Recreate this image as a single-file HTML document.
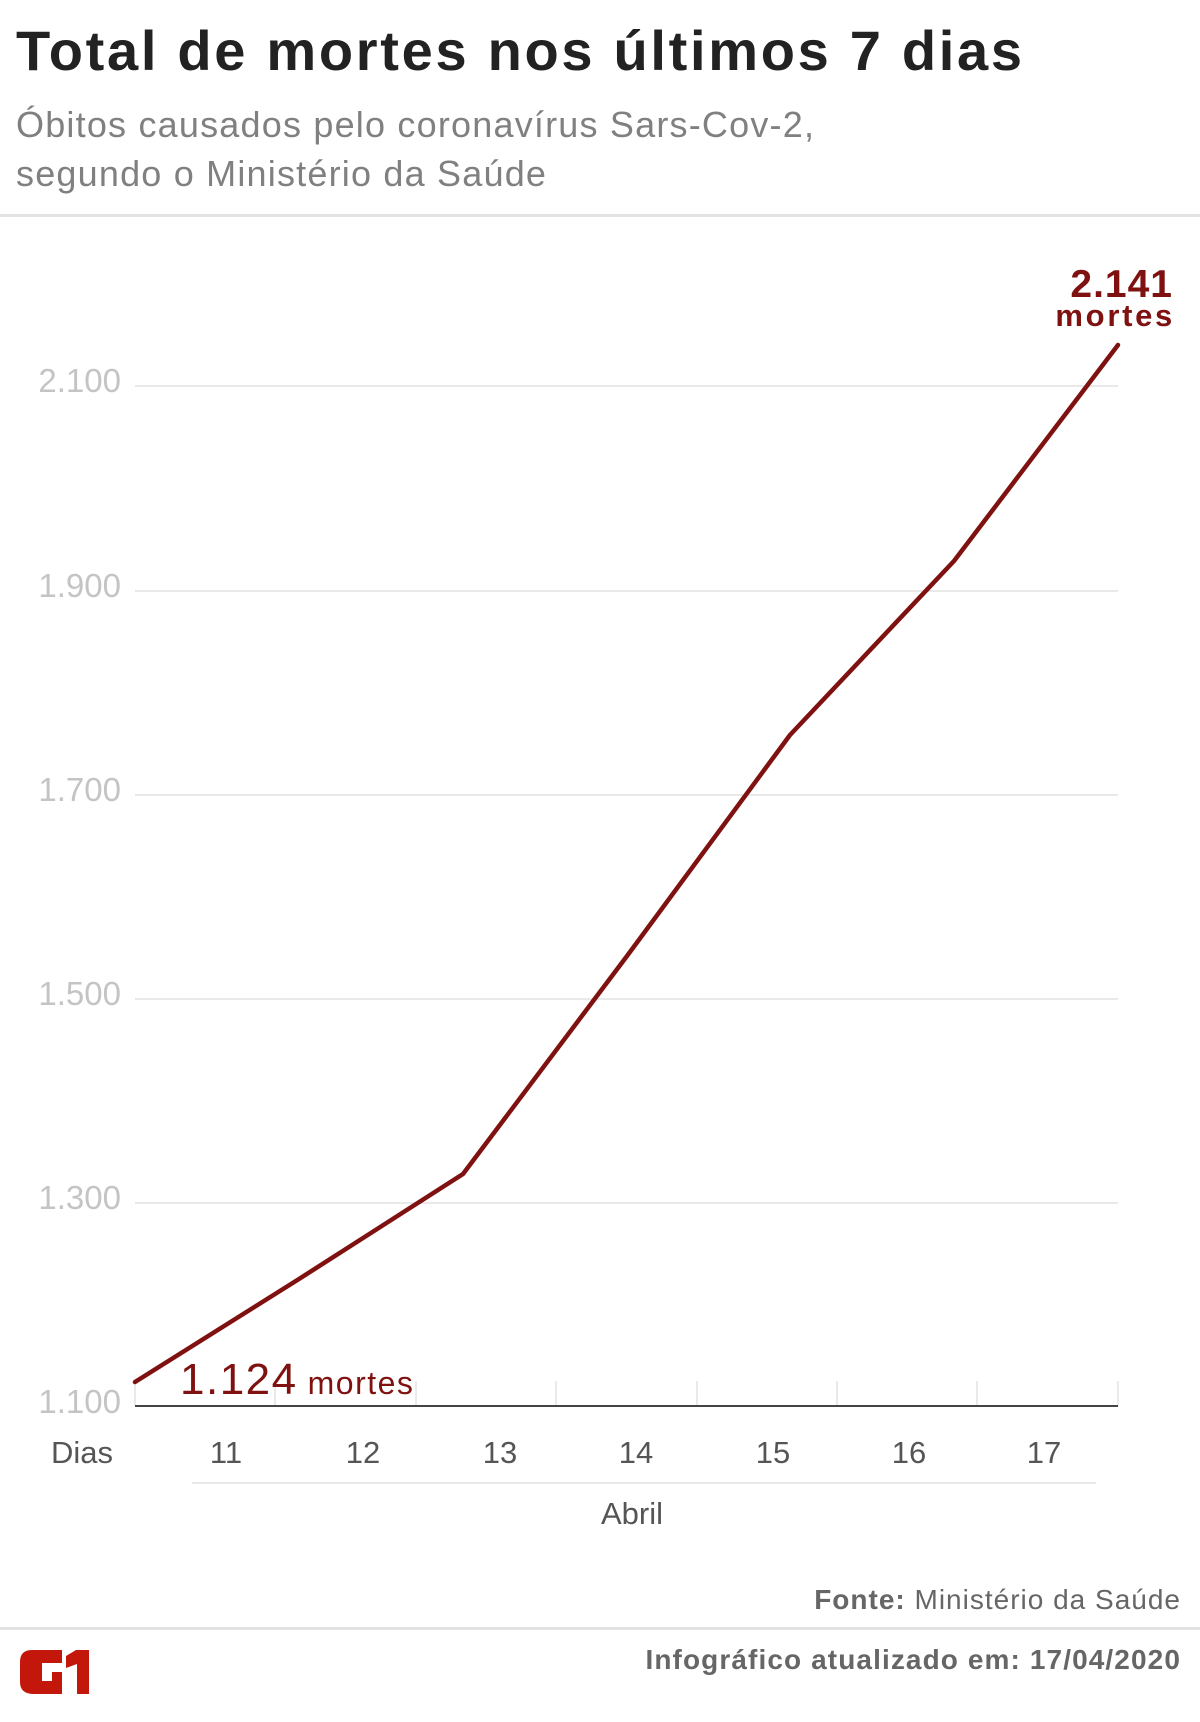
<!DOCTYPE html>
<html><head><meta charset="utf-8"><style>
html,body{margin:0;padding:0;background:#fff;}
body{width:1200px;height:1722px;position:relative;overflow:hidden;font-family:"Liberation Sans","DejaVu Sans",sans-serif;}
.t{position:absolute;white-space:nowrap;}
</style></head><body>
<div class="t" style="left:16px;top:18px;font-size:56px;font-weight:bold;color:#222;letter-spacing:2.7px;">Total de mortes nos últimos 7 dias</div>
<div class="t" style="left:16px;top:100px;font-size:36px;color:#808080;line-height:49px;letter-spacing:1.2px;">Óbitos causados pelo coronavírus Sars-Cov-2,<br>segundo o Ministério da Saúde</div>
<div style="position:absolute;left:0;top:214px;width:1200px;height:3px;background:#e3e3e3;"></div>
<svg width="1200" height="1722" style="position:absolute;left:0;top:0" xmlns="http://www.w3.org/2000/svg" font-family="Liberation Sans, DejaVu Sans, sans-serif">
<g stroke="#e2e2e2" stroke-width="1.5">
<line x1="135" y1="386" x2="1118" y2="386"/>
<line x1="135" y1="591" x2="1118" y2="591"/>
<line x1="135" y1="795" x2="1118" y2="795"/>
<line x1="135" y1="999" x2="1118" y2="999"/>
<line x1="135" y1="1203" x2="1118" y2="1203"/>
<line x1="135" y1="1381" x2="135" y2="1406"/>
<line x1="275" y1="1381" x2="275" y2="1406"/>
<line x1="416" y1="1381" x2="416" y2="1406"/>
<line x1="556" y1="1381" x2="556" y2="1406"/>
<line x1="697" y1="1381" x2="697" y2="1406"/>
<line x1="837" y1="1381" x2="837" y2="1406"/>
<line x1="977" y1="1381" x2="977" y2="1406"/>
<line x1="1118" y1="1381" x2="1118" y2="1406"/>
<line x1="192" y1="1483" x2="1096" y2="1483"/>
</g>
<line x1="135" y1="1406" x2="1118" y2="1406" stroke="#444" stroke-width="2"/>
<g fill="#c4c4c4" font-size="33" text-anchor="end">
<text x="121" y="392">2.100</text>
<text x="121" y="597">1.900</text>
<text x="121" y="801">1.700</text>
<text x="121" y="1005">1.500</text>
<text x="121" y="1209">1.300</text>
<text x="121" y="1413">1.100</text>
</g>
<polyline fill="none" stroke="#7f1111" stroke-width="4.5" stroke-linejoin="round" stroke-linecap="round"
points="135,1382 299,1279 463,1174 627,956 790,735 954,561 1118,345"/>
<g fill="#555" font-size="31" text-anchor="middle">
<text x="82" y="1463">Dias</text>
<text x="226" y="1463">11</text>
<text x="363" y="1463">12</text>
<text x="500" y="1463">13</text>
<text x="636" y="1463">14</text>
<text x="773" y="1463">15</text>
<text x="909" y="1463">16</text>
<text x="1044" y="1463">17</text>
<text x="632" y="1524">Abril</text>
</g>
<text x="1173" y="297" fill="#7f1111" font-size="39" font-weight="bold" text-anchor="end" letter-spacing="1">2.141</text>
<text x="1175" y="326" fill="#7f1111" font-size="31" font-weight="bold" text-anchor="end" letter-spacing="2.7">mortes</text>
<text x="180" y="1394" fill="#7f1111" font-size="44" letter-spacing="1.5"><tspan>1.124</tspan><tspan font-size="32" dx="10">mortes</tspan></text>
<text x="1181" y="1609" fill="#666" font-size="28" text-anchor="end" letter-spacing="1"><tspan font-weight="bold">Fonte:</tspan> Ministério da Saúde</text>
<rect x="0" y="1627" width="1200" height="3" fill="#e3e3e3"/>
<text x="1181" y="1669" fill="#666" font-size="28" font-weight="bold" text-anchor="end" letter-spacing="1.1">Infográfico atualizado em: 17/04/2020</text>
<g fill="#c4170c">
<path d="M28 1650 H62 V1663 H42 V1681 H52 V1672 H62 V1694 H34 Q20 1694 20 1682 V1662 Q20 1650 32 1650 Z"/>
<path d="M66 1656 L76 1650 H89 V1694 H77 V1664 L66 1668 Z"/>
</g>
</svg>
</body></html>
